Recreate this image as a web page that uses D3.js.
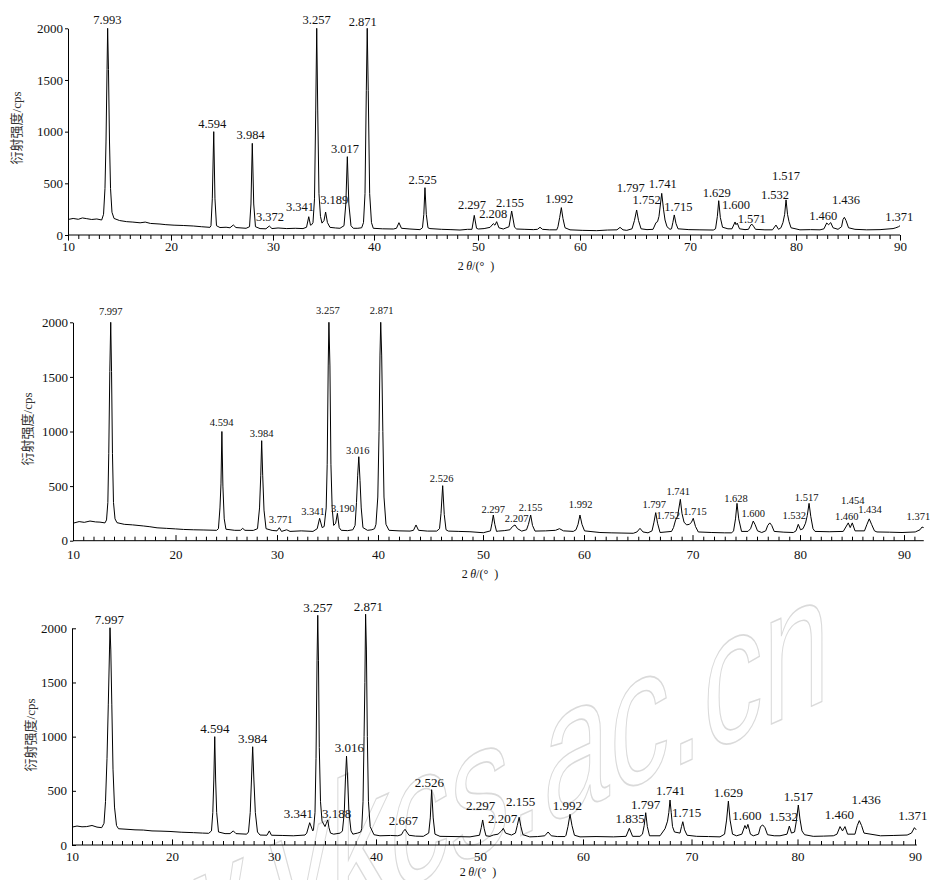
<!DOCTYPE html>
<html>
<head>
<meta charset="utf-8">
<script src="https://cdn.jsdelivr.net/npm/d3@7"></script>
<style>
  body { margin: 0; background: #fff; }
  text { fill: #111; }
</style>
</head>
<body>
<div id="chart"></div>
<script>
// XRD patterns: [2theta, intensity (cps)]
const pattern1 = [
  [10.0,150],[10.5,160],[11.0,152],[11.4,165],[11.82,158],[12.3,150],[12.8,155],[13.27,145],
  [13.45,200],[13.59,450],[13.69,900],[13.79,1600],[13.85,2000],[13.93,1600],[14.03,900],[14.13,450],[14.27,220],[14.47,160],
  [15.0,140],[15.7,129],[16.3,125],[17.0,118],[17.5,125],[18.0,112],[18.93,106],[19.5,100],[20.3,95],[21.2,92],[22.19,87],[23.0,80],[23.82,74],
  [23.92,90],[24.05,350],[24.19,1000],[24.31,350],[24.46,90],
  [24.8,72],[25.4,75],[25.78,70],[26.11,97],[26.37,72],[27.36,65],
  [27.70,80],[27.84,300],[27.97,887],[28.11,300],[28.28,80],
  [28.73,62],[29.31,60],[29.64,87],[29.9,62],[30.5,68],[31.36,62],[32.2,65],[32.97,62],
  [33.32,75],[33.54,177],[33.71,95],[33.83,100],
  [33.96,120],[34.11,350],[34.23,1200],[34.33,2000],[34.43,1200],[34.55,400],[34.70,180],[34.85,115],
  [35.05,140],[35.21,222],[35.39,120],[35.64,74],[36.2,68],[36.63,65],
  [37.03,90],[37.21,300],[37.36,758],[37.51,300],[37.72,90],
  [37.95,65],[38.4,65],[38.78,70],
  [38.96,120],[39.11,400],[39.24,1400],[39.33,2000],[39.43,1400],[39.57,400],[39.75,120],
  [39.93,65],[40.8,60],[41.86,58],
  [42.16,65],[42.40,119],[42.64,65],
  [43.46,58],[44.42,52],
  [44.66,70],[44.79,200],[44.90,458],[45.03,200],[45.19,70],
  [45.38,62],[46.5,55],[47.4,52],[48.27,48],[49.0,55],
  [49.42,55],[49.64,190],[49.86,65],
  [50.03,58],[50.6,62],[51.18,74],[51.50,110],[51.66,95],[51.83,129],[52.05,70],[52.48,58],
  [53.04,80],[53.30,232],[53.58,75],
  [53.79,58],[54.6,55],[55.42,52],
  [55.83,55],[56.08,75],[56.32,55],
  [57.0,50],[57.72,50],
  [57.84,80],[58.01,170],[58.17,265],[58.33,160],[58.53,70],
  [59.02,50],[60.2,45],[61.52,42],[62.5,48],[63.36,50],[63.64,74],[63.91,50],[64.25,45],
  [64.73,60],[64.95,140],[65.15,242],[65.32,140],[65.55,60],
  [66.09,52],[66.64,55],[66.91,120],[67.05,129],[67.18,180],[67.43,403],[67.59,250],[67.73,145],[67.91,80],[68.18,55],
  [68.32,60],[68.44,120],[68.57,194],[68.73,110],[68.91,60],
  [69.9,52],[70.94,50],[72.2,48],
  [72.41,60],[72.58,180],[72.71,332],[72.86,170],[73.07,75],
  [73.58,60],[73.96,60],[74.25,126],[74.34,100],[74.46,115],[74.67,60],
  [75.19,52],[75.52,55],[75.66,85],[75.82,106],[75.99,85],[76.18,55],
  [77.07,50],[77.78,50],[78.11,96],[78.35,55],
  [78.58,70],[78.77,120],[78.93,200],[79.06,340],[79.20,200],[79.34,130],[79.53,70],
  [80.38,50],[81.4,52],[82.31,50],
  [82.69,60],[82.95,116],[83.14,100],[83.34,120],[83.56,70],
  [84.04,55],[84.38,80],[84.52,150],[84.65,171],[84.81,140],[85.05,70],
  [85.67,55],[86.8,50],[88.08,52],[89.33,62],[89.6,70],[89.86,80],[90,90]
];

const pattern2 = [
  [10,160],[10.6,175],[11.1,168],[11.66,180],[12.2,172],[12.63,170],[13.12,163],
  [13.27,190],[13.40,350],[13.49,800],[13.59,1550],[13.68,2000],[13.76,1550],[13.85,800],[13.95,350],[14.10,200],[14.29,165],
  [15.0,150],[15.8,145],[16.86,135],[17.5,128],[18.2,118],[19.14,113],[20.0,108],[20.8,103],[21.75,100],[22.8,98],[24.05,95],
  [24.23,110],[24.38,300],[24.48,520],[24.57,1000],[24.67,500],[24.80,200],[24.97,105],
  [25.84,95],[26.40,95],[26.62,113],[26.84,95],[27.66,94],
  [28.08,110],[28.28,300],[28.40,600],[28.49,916],[28.59,600],[28.72,280],[28.92,110],
  [29.52,94],[30.0,90],[30.23,119],[30.45,85],[30.96,100],[31.29,85],[32.4,90],[33.56,85],
  [33.98,110],[34.22,205],[34.47,120],
  [34.67,130],[34.87,300],[34.97,700],[35.07,1600],[35.14,2000],[35.24,1600],[35.34,700],[35.46,300],[35.61,140],
  [35.81,160],[35.98,251],[36.16,120],[36.36,95],[37.0,92],[37.51,100],
  [37.73,140],[37.87,350],[37.99,600],[38.10,769],[38.22,550],[38.34,300],[38.51,120],
  [38.96,95],[39.4,100],[39.66,110],
  [39.80,150],[39.98,400],[40.10,1000],[40.19,1700],[40.26,2000],[40.35,1700],[40.46,1000],[40.57,400],[40.76,150],
  [41.05,95],[42.0,90],[43.05,88],[43.38,95],[43.62,144],[43.86,95],[44.7,88],[45.59,88],
  [45.86,110],[46.0,250],[46.16,504],[46.31,240],[46.48,100],
  [46.7,88],[47.7,85],[48.76,82],[50.03,73],
  [50.74,90],[50.89,160],[51.02,235],[51.17,150],[51.34,85],
  [51.52,88],[52.1,92],[52.67,100],[52.92,130],[53.17,144],[53.42,110],[53.83,88],
  [54.31,100],[54.50,150],[54.72,235],[54.90,140],[55.15,88],
  [56.2,90],[57.18,95],[57.57,110],[57.97,90],[58.94,85],
  [59.21,100],[59.41,150],[59.60,235],[59.80,150],[60.05,90],
  [61.47,75],[62.5,72],[63.5,70],[64.54,68],[64.88,80],[65.16,113],[65.44,80],[65.90,72],
  [66.27,90],[66.45,170],[66.61,257],[66.78,160],[67.01,75],
  [68.07,85],[68.25,120],[68.44,189],[68.62,220],[68.88,379],[69.03,250],[69.22,170],[69.45,145],
  [69.72,150],[69.91,170],[70.07,205],[70.28,130],[70.54,80],
  [71.8,75],[73.0,72],[73.65,72],
  [73.82,90],[74.0,200],[74.14,342],[74.30,200],[74.56,85],
  [75.16,85],[75.40,110],[75.65,180],[75.81,150],[76.05,90],[76.44,75],
  [76.81,90],[77.0,140],[77.19,163],[77.37,140],[77.60,85],
  [78.5,78],[79.38,75],[79.63,90],[79.84,150],[80.05,100],[80.29,110],
  [80.53,160],[80.70,230],[80.87,342],[81.04,220],[81.25,110],[81.44,85],
  [82.8,82],[84.16,85],[84.64,163],[84.83,120],[85.03,163],[85.29,90],
  [86.20,90],[86.44,150],[86.66,200],[86.88,150],[87.16,90],
  [87.40,80],[88.6,78],[89.81,75],[91.08,80],[91.54,100],[91.73,125],[91.89,120]
];

const pattern3 = [
  [10,165],[10.5,175],[11.0,168],[11.47,170],[12.0,180],[12.5,165],[12.97,160],
  [13.2,200],[13.35,400],[13.5,800],[13.63,1300],[13.75,1800],[13.8,2005],[13.88,1800],[13.98,1300],[14.1,700],[14.25,350],[14.45,180],
  [14.65,150],[15.5,145],[16.3,140],[17.13,138],[18.0,130],[18.9,128],[19.8,125],[20.9,118],[22.09,114],[23.0,110],[23.6,108],
  [23.87,130],[24.0,300],[24.10,600],[24.19,1000],[24.28,600],[24.38,300],[24.56,120],
  [25.2,105],[25.69,105],[26.01,130],[26.27,105],[27.32,100],
  [27.5,120],[27.67,300],[27.79,600],[27.91,907],[28.03,600],[28.17,300],[28.38,120],
  [28.63,92],[29.31,90],[29.54,130],[29.75,90],[30.8,88],[31.89,85],[33.04,92],
  [33.21,110],[33.5,206],[33.8,130],
  [33.87,140],[34.02,300],[34.12,800],[34.22,1700],[34.29,2120],[34.36,1700],[34.44,900],[34.56,400],[34.71,220],
  [35.0,170],[35.13,200],[35.27,231],[35.39,160],[35.54,110],
  [35.85,100],[36.5,110],
  [36.71,130],[36.89,300],[37.0,600],[37.11,820],[37.22,600],[37.35,300],[37.55,130],
  [37.73,100],[38.2,110],[38.5,120],
  [38.6,150],[38.73,400],[38.83,1000],[38.91,1500],[38.98,2130],[39.06,1800],[39.15,1000],[39.26,400],[39.43,170],
  [39.8,95],[40.38,85],[41.4,88],[42.1,85],
  [42.45,95],[42.62,125],[42.79,145],[42.96,120],[43.17,90],
  [43.8,82],[44.55,80],
  [45.07,110],[45.22,250],[45.35,510],[45.5,250],[45.67,100],
  [46.15,80],[47.5,78],[49.04,75],
  [49.95,90],[50.12,160],[50.26,231],[50.41,150],[50.58,85],
  [50.97,80],[51.29,92],[51.75,100],[52.09,130],[52.26,154],[52.48,110],[53.06,92],
  [53.44,110],[53.62,180],[53.8,256],[53.97,170],[54.17,95],
  [54.83,75],[55.6,78],[56.29,85],[56.61,120],[56.92,85],[57.5,78],[58.25,78],
  [58.35,90],[58.54,170],[58.74,283],[58.93,180],[59.17,90],
  [59.71,75],[61.2,78],[62.8,75],[63.97,80],[64.27,154],[64.57,80],[65.25,80],
  [65.48,100],[65.64,180],[65.78,298],[65.93,170],[66.13,85],
  [67.1,85],[67.56,150],[67.79,220],[67.91,300],[68.02,415],[68.13,300],[68.25,170],[68.43,120],
  [68.94,110],[69.08,170],[69.2,215],[69.36,140],[69.59,90],
  [70.49,80],[71.6,78],[72.69,75],
  [73.12,100],[73.31,230],[73.48,405],[73.64,230],[73.87,100],
  [74.25,85],[74.75,100],[75.04,180],[75.18,150],[75.32,190],[75.56,100],[75.83,85],
  [76.32,100],[76.51,170],[76.72,185],[76.93,160],[77.17,95],
  [77.8,85],[78.35,85],[79.01,100],[79.23,175],[79.43,110],
  [79.72,120],[79.89,220],[80.07,369],[80.21,240],[80.38,130],[80.6,95],
  [81.34,80],[82.2,82],[83.05,85],
  [83.36,100],[83.62,170],[83.83,130],[84.04,170],[84.26,100],
  [84.89,100],[85.09,180],[85.26,225],[85.45,180],[85.66,110],
  [87.06,85],[88.2,88],[89.33,92],[89.7,110],[89.95,160],[90.1,140]
];

// d-spacing labels: [text, 2theta, intensity where the label sits]
const labels1 = [
  ["7.993",13.82,2045],["4.594",24.05,1038],["3.984",27.81,926],["3.372",29.71,139],["3.341",32.67,235],
  ["3.257",34.32,2042],["3.189",36.06,300],["3.017",37.13,790],["2.871",38.88,2025],["2.525",44.68,490],
  ["2.297",49.42,252],["2.208",51.50,161],["2.155",53.14,274],["1.992",57.97,313],["1.797",64.61,413],
  ["1.752",66.06,300],["1.741",67.52,458],["1.715",68.94,235],["1.629",72.52,371],["1.600",74.34,250],
  ["1.571",75.82,115],["1.532",78.02,348],["1.517",79.06,532],["1.460",82.62,145],["1.436",84.81,300],
  ["1.371",89.93,139]
];
const labels2 = [
  ["7.997",13.68,2067],["4.594",24.54,1050],["3.984",28.49,952],["3.771",30.36,159],["3.341",33.56,235],
  ["3.257",35.04,2076],["3.190",36.52,266],["3.016",38.0,794],["2.871",40.35,2076],["2.526",46.06,535],
  ["2.297",51.02,257],["2.207",53.33,174],["2.155",54.72,275],["1.992",59.67,297],["1.797",66.48,297],
  ["1.752",67.77,196],["1.741",68.69,419],["1.715",70.23,235],["1.628",74.05,357],["1.600",75.65,220],
  ["1.532",79.47,196],["1.517",80.64,366],["1.460",84.49,190],["1.454",85.07,333],["1.434",86.73,257],
  ["1.371",91.38,190]
];
const labels3 = [
  ["7.997",13.73,2037],["4.594",24.21,1037],["3.984",27.91,939],["3.341",32.39,246],["3.257",34.29,2153],
  ["3.188",36.15,252],["3.016",37.39,861],["2.871",39.25,2163],["2.667",42.63,185],["2.526",45.13,533],
  ["2.297",50.07,323],["2.207",52.2,200],["2.155",53.95,360],["1.992",58.48,323],["1.835",64.34,200],
  ["1.797",65.78,330],["1.741",68.08,462],["1.715",69.56,261],["1.629",73.48,440],["1.600",75.23,231],
  ["1.532",78.66,224],["1.517",80.07,406],["1.460",83.56,237],["1.436",85.83,378],["1.371",89.81,231]
];

const xMajor = [10, 20, 30, 40, 50, 60, 70, 80, 90];
const yTicks = [0, 500, 1000, 1500, 2000];
const yTitle = "衍射强度/cps";

const serif = "'Liberation Serif', 'Times New Roman', serif";

// panel layout (the scanned axes are slightly uneven, so the x scale follows the printed ticks)
const panels = [
  {pattern: pattern1, labels: labels1, stops: [68,171,273,374,478,580,690,796,900], xEnd: 90,
   y0: 235, yTop: 28.3, xTick: 4, xPad: 3, yTick: 3, yPad: 2, peakSize: 12.5, yTitlePos: [21, 128], xTitlePos: [476, 270]},
  {pattern: pattern2, labels: labels2, stops: [73,175.5,277,378,483,584,692.5,800,904], xEnd: 91.9,
   y0: 540.7, yTop: 322.3, xTick: -4, xPad: 9, yTick: 3, yPad: 2, peakSize: 10.5, yTitlePos: [32, 429], xTitlePos: [480, 578]},
  {pattern: pattern3, labels: labels3, stops: [72,172,274,376,480,583,691.5,797.5,915], xEnd: 90.15,
   y0: 845, yTop: 628.3, xTick: -4, xPad: 7, yTick: -4, yPad: 5, peakSize: 13, yTitlePos: [35, 735], xTitlePos: [478, 876]}
];

const svg = d3.select("#chart")
  .append("svg")
    .attr("width", 930)
    .attr("height", 880);

// outlined watermark behind the third panel
svg.append("text")
    .attr("transform", "translate(-17,1075) skewY(-24) scale(1,1.6)")
    .attr("font-family", "'Liberation Sans', Arial, sans-serif")
    .attr("font-size", 120)
    .style("fill", "none")
    .attr("stroke", "#dadada")
    .attr("stroke-width", 1)
  .text("www.ykcs.ac.cn");

panels.forEach(p => {
  const x = d3.scaleLinear().domain(xMajor).range(p.stops);
  const y = d3.scaleLinear().domain([0, 2000]).range([p.y0, p.yTop]);
  const g = svg.append("g");

  // x axis with a tick every degree
  const gx = g.append("g")
      .attr("transform", `translate(0,${p.y0})`)
      .call(d3.axisBottom(x)
        .tickValues(d3.range(10, Math.floor(p.xEnd) + 1))
        .tickSizeInner(p.xTick)
        .tickSizeOuter(0)
        .tickPadding(p.xPad)
        .tickFormat(d => d % 10 === 0 ? d : ""))
      .attr("font-size", 13)
      .attr("font-family", serif);
  gx.select(".domain").remove();
  gx.selectAll(".tick line").attr("y2", d => d % 10 === 0 ? p.xTick * 1.4 : p.xTick);
  gx.append("line")
      .attr("x1", x(10))
      .attr("x2", x(p.xEnd))
      .attr("stroke", "#000");

  // y axis
  g.append("g")
      .attr("transform", `translate(${x(10)},0)`)
      .call(d3.axisLeft(y)
        .tickValues(yTicks)
        .tickFormat(d3.format("d"))
        .tickSizeInner(p.yTick)
        .tickSizeOuter(0)
        .tickPadding(p.yPad))
      .attr("font-size", 13)
      .attr("font-family", serif);

  // pattern
  const line = d3.line()
    .x(d => x(d[0]))
    .y(d => y(d[1]));
  g.append("path")
      .datum(p.pattern)
      .attr("fill", "none")
      .attr("stroke", "#000")
      .attr("stroke-width", 1)
      .attr("stroke-linejoin", "round")
      .attr("d", line);

  // d-spacing labels
  g.selectAll(".peak")
    .data(p.labels)
    .join("text")
      .attr("class", "peak")
      .attr("x", d => x(d[1]))
      .attr("y", d => y(d[2]))
      .attr("text-anchor", "middle")
      .attr("font-family", serif)
      .attr("font-size", p.peakSize)
    .text(d => d[0]);

  // axis titles
  g.append("text")
      .attr("transform", `translate(${p.yTitlePos[0]},${p.yTitlePos[1]}) rotate(-90)`)
      .attr("text-anchor", "middle")
      .attr("font-family", "'Liberation Serif', 'Noto Sans CJK SC', serif")
      .attr("font-size", 13)
      .style("fill", "#333")
    .text(yTitle);

  const xt = g.append("text")
      .attr("x", p.xTitlePos[0])
      .attr("y", p.xTitlePos[1])
      .attr("text-anchor", "middle")
      .attr("font-family", serif)
      .attr("font-size", 12);
  xt.append("tspan").text("2\u2009");
  xt.append("tspan").attr("font-style", "italic").text("θ");
  xt.append("tspan").text("/(°\u2002)");
});
</script>
</body>
</html>
